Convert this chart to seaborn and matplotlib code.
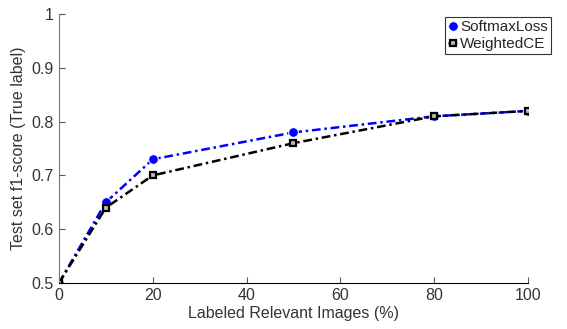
import matplotlib
matplotlib.use("Agg")
import matplotlib.pyplot as plt
import seaborn as sns
import pandas as pd

# data
labeled_pct = [0, 10, 20, 50, 80, 100]
softmax_loss = [0.50, 0.65, 0.73, 0.78, 0.81, 0.82]
weighted_ce = [0.50, 0.64, 0.70, 0.76, 0.81, 0.82]

df = pd.DataFrame({
    "pct": labeled_pct * 2,
    "f1": softmax_loss + weighted_ce,
    "method": ["SoftmaxLoss"] * 6 + ["WeightedCE"] * 6,
})

sns.set_style("ticks")
plt.rcParams["font.family"] = ["Liberation Sans", "DejaVu Sans"]
plt.rcParams["font.size"] = 11.5

fig = plt.figure(figsize=(5.67, 3.29), dpi=100)
ax = fig.add_axes([0.104, 0.14, 0.827, 0.817])

sns.lineplot(data=df, x="pct", y="f1", hue="method", style="method",
             palette={"SoftmaxLoss": "#0000ff", "WeightedCE": "black"},
             markers={"SoftmaxLoss": "o", "WeightedCE": "s"},
             dashes={"SoftmaxLoss": (3.5, 1.5, 1, 1.5), "WeightedCE": (3.5, 1.5, 1, 1.5)},
             linewidth=1.8, markersize=7, ax=ax)

# square markers for WeightedCE: black border, light centre
for line in ax.lines:
    if line.get_color() == "black":
        line.set_markerfacecolor("#bbbbbb")
        line.set_markeredgecolor("black")
        line.set_markeredgewidth(1.6)
        line.set_markersize(4.8)

ax.set_xlim(0, 100)
ax.set_ylim(0.5, 1.0)
ax.set_xticks([0, 20, 40, 60, 80, 100])
ax.set_yticks([0.5, 0.6, 0.7, 0.8, 0.9, 1.0])
ax.set_yticklabels(["0.5", "0.6", "0.7", "0.8", "0.9", "1"])
ax.tick_params(direction="in", length=4, color="#555555", labelcolor="#333333")
ax.set_xlabel("Labeled Relevant Images (%)", color="#333333", labelpad=2)
ax.set_ylabel("Test set f1-score (True label)", color="#333333", labelpad=4)
sns.despine(ax=ax)
ax.spines["left"].set_color("#777777")
ax.spines["bottom"].set_color("black")

leg = ax.legend(loc="upper right", bbox_to_anchor=(551 / 567, 1 - 17 / 329),
                bbox_transform=fig.transFigure, frameon=True, fancybox=False,
                handlelength=0.6, handletextpad=0.2, borderpad=0.2,
                labelspacing=0.2, borderaxespad=0, fontsize=11)
leg.get_frame().set_edgecolor("black")
leg.get_frame().set_linewidth(0.8)

fig.savefig("out.png", dpi=100)
